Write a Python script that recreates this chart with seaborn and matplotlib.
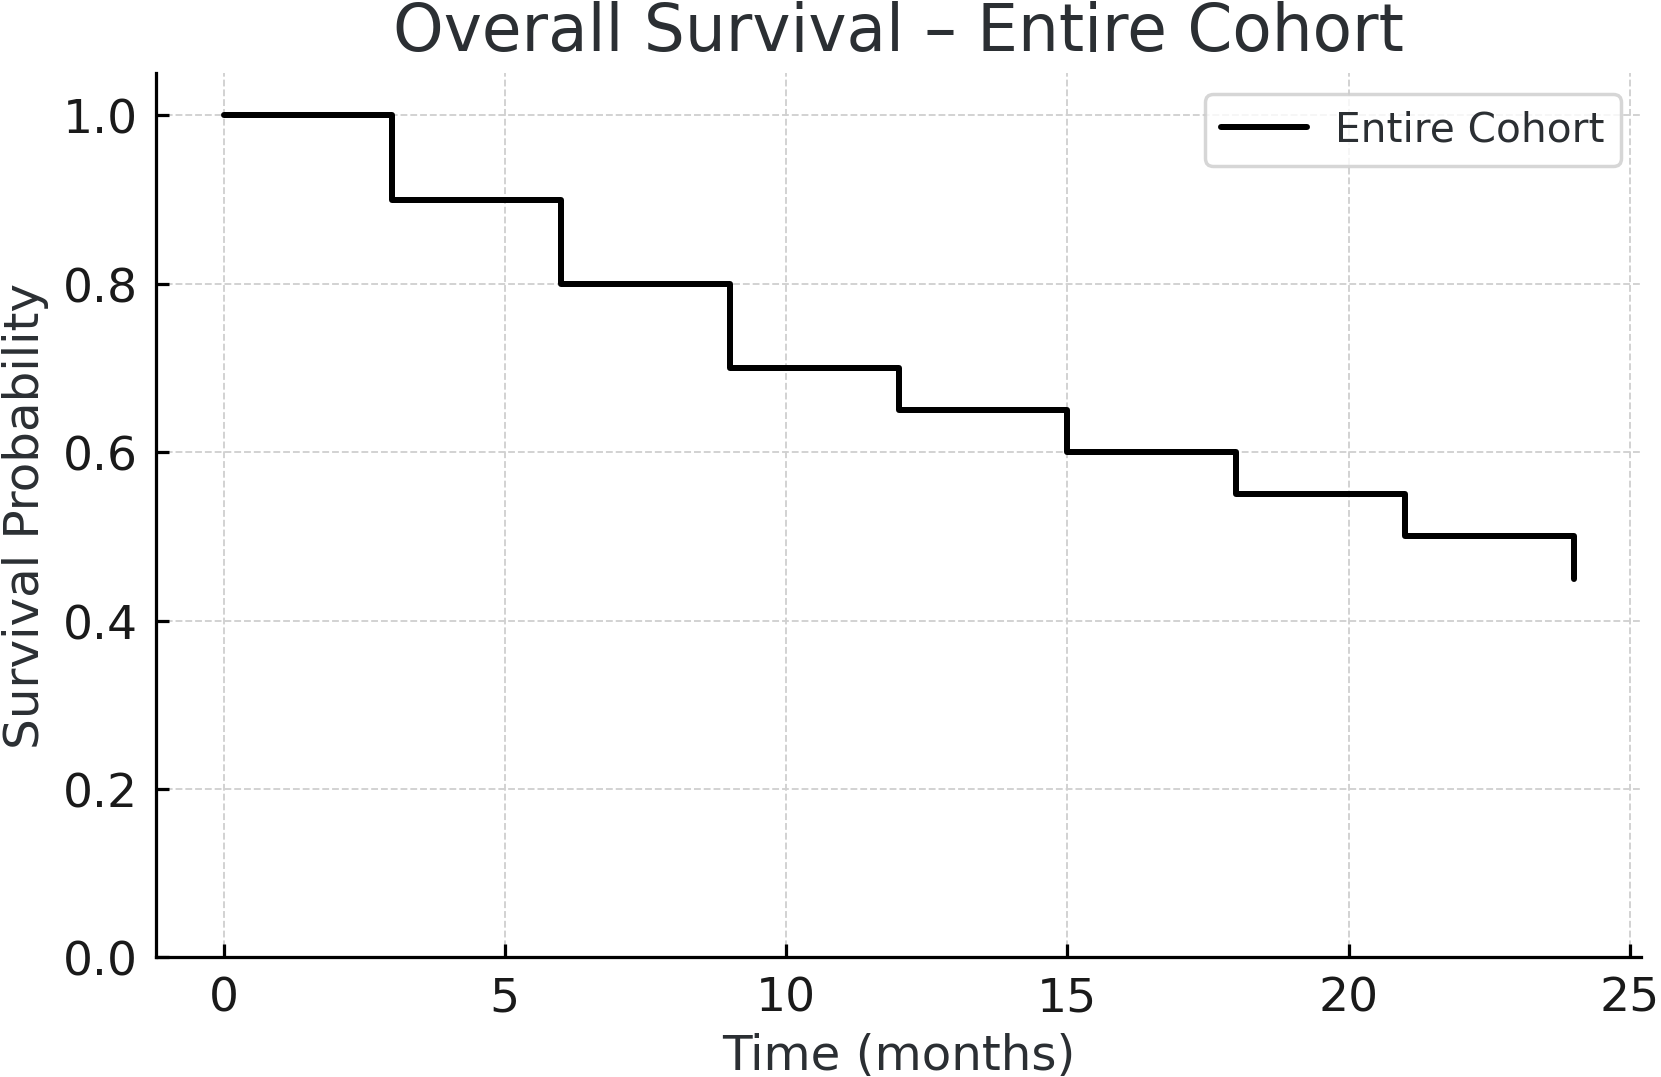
import numpy as np
import pandas as pd
import seaborn as sns
import matplotlib
matplotlib.use("Agg")
import matplotlib.pyplot as plt

# Kaplan-Meier style steps
time_months = [0, 3, 6, 9, 12, 15, 18, 21, 24]
survival_prob = [1.0, 0.9, 0.8, 0.7, 0.65, 0.6, 0.55, 0.5, 0.45]

df = pd.DataFrame({'time': time_months, 'survival': survival_prob})

sns.set_theme(style='whitegrid')
plt.rcParams['font.family'] = ['DejaVu Sans']
text_col = '#2b2f33'

fig, ax = plt.subplots(figsize=(10.0, 6.49), dpi=166.1)
fig.subplots_adjust(left=0.094, right=0.988, top=0.931, bottom=0.111)

sns.lineplot(data=df, x='time', y='survival', drawstyle='steps-post',
             color='black', linewidth=2.6, label='Entire Cohort', ax=ax)

ax.set_ylim(0, 1.05)
ax.set_xticks([0, 5, 10, 15, 20, 25])
ax.set_yticks([0.0, 0.2, 0.4, 0.6, 0.8, 1.0])
ax.set_yticklabels([f"{v:.1f}" for v in [0.0, 0.2, 0.4, 0.6, 0.8, 1.0]])

ax.set_facecolor('white')
ax.grid(True, linestyle='--', color='#d0d0d0', linewidth=0.8)
for side in ['top', 'right']:
    ax.spines[side].set_visible(False)
for side in ['left', 'bottom']:
    ax.spines[side].set_visible(True)
    ax.spines[side].set_color('black')
    ax.spines[side].set_linewidth(1.4)

ax.tick_params(direction='in', length=5.5, width=1.4, colors='black',
               labelsize=20.5, labelcolor='#1a1a1a', left=True, bottom=True, pad=8)

ax.set_title('Overall Survival – Entire Cohort', fontsize=28, color=text_col, pad=10)
ax.set_xlabel('Time (months)', fontsize=21, color=text_col, labelpad=5)
ax.set_ylabel('Survival Probability', fontsize=21, color=text_col, labelpad=6)

leg = ax.legend(loc='upper right', fontsize=17.6, frameon=True, handlelength=2.1,
                borderpad=0.4, handletextpad=0.7, fancybox=True)
leg.get_frame().set_edgecolor('#cccccc')
leg.get_frame().set_linewidth(1.5)
for t in leg.get_texts():
    t.set_color(text_col)

fig.savefig('out.png', dpi=166.1)
